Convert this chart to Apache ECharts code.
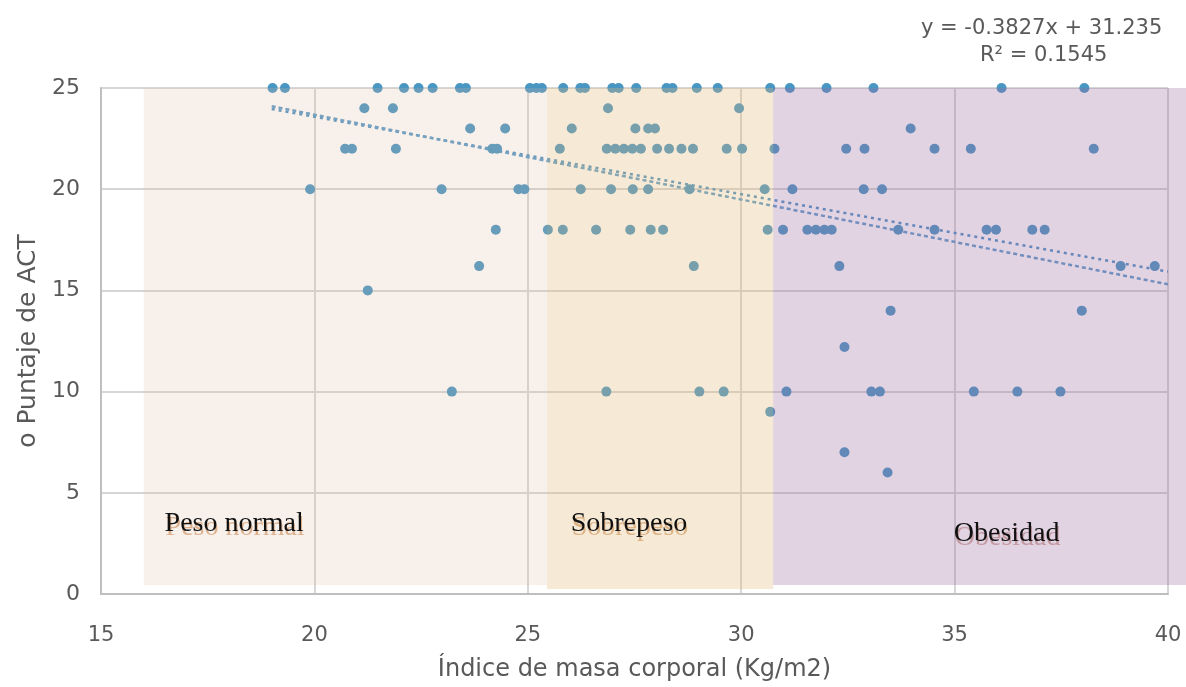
<!DOCTYPE html>
<html><head><meta charset="utf-8">
<script src="https://cdn.jsdelivr.net/npm/echarts@6/dist/echarts.min.js"></script>
<style>html,body{margin:0;padding:0;background:#fff}#c{width:1186px;height:687px}</style>
</head><body><div id="c"></div>
<script>
// Tick values
const xTicks = [15, 20, 25, 30, 35, 40];
const yTicks = [0, 5, 10, 15, 20, 25];

// ACT score rows and BMI values for each row
const scores = [25, 24, 23, 22, 20, 18, 16.2, 15, 14, 12.2, 10, 9, 7, 6];
const bmi25 = [19.02, 19.31, 21.48, 22.1, 22.44, 22.77, 23.41, 23.55, 25.05, 25.2, 25.33, 25.83, 26.23, 26.34, 26.98, 27.13, 27.54, 28.25, 28.39, 28.96, 29.45, 30.68, 31.14, 32.0, 33.1, 36.1, 38.04];
const bmi24 = [21.17, 21.84, 26.88, 29.95];
const bmi23 = [23.65, 24.47, 26.03, 27.52, 27.82, 27.98, 33.97];
const bmi22 = [20.72, 20.88, 21.91, 24.17, 24.28, 25.75, 26.85, 27.05, 27.25, 27.45, 27.65, 28.03, 28.31, 28.6, 28.87, 29.66, 30.02, 30.78, 32.46, 32.89, 34.53, 35.38, 38.26];
const bmi20 = [19.9, 22.98, 24.78, 24.92, 26.24, 26.95, 27.46, 27.82, 28.79, 30.55, 31.2, 32.87, 33.3];
const bmi18 = [24.25, 25.47, 25.82, 26.6, 27.4, 27.88, 28.17, 30.62, 30.98, 31.55, 31.75, 31.95, 32.12, 33.68, 34.53, 35.75, 35.97, 36.82, 37.11];
const bmi16 = [23.86, 28.89, 32.3, 38.89, 39.69];
const bmi15 = [21.25];
const bmi14 = [33.5, 37.98];
const bmi12 = [32.42];
const bmi10 = [23.22, 26.84, 29.02, 29.59, 31.06, 33.05, 33.25, 35.45, 36.47, 37.48];
const bmi9 = [30.68];
const bmi7 = [32.42];
const bmi6 = [33.43];
const rows = [bmi25, bmi24, bmi23, bmi22, bmi20, bmi18, bmi16, bmi15, bmi14, bmi12, bmi10, bmi9, bmi7, bmi6];

// Trend lines (end points)
const trendEq = [[19, 23.96], [40, 15.93]];
const trendB = [[19, 24.1], [40, 15.3]];

// Weight-category bands: [xFrom, xTo, yFrom, yTo]
const bandNames = ['Peso normal', 'Sobrepeso', 'Obesidad'];
const bandRanges = [[16, 25.45, 0.45, 25], [25.45, 30.75, 0.25, 25], [30.75, 40.45, 0.45, 25]];
const bandLabelAt = [[18.12, 3.48], [27.37, 3.48], [36.22, 2.99]];

const bandFill = ['rgba(222,180,150,0.2)', 'rgba(225,185,118,0.3)', 'rgba(158,108,162,0.3)'];
const bandShadow = ['rgba(205,135,80,0.6)', 'rgba(205,140,80,0.6)', 'rgba(170,105,105,0.55)'];

const points = [];
rows.forEach((r, i) => r.forEach(x => points.push([x, scores[i]])));

const txt = '#595959';
const font = '"DejaVu Sans", sans-serif';
const labelFont = '28px "Liberation Serif", serif';
const chart = echarts.init(document.getElementById('c'), null, {renderer: 'canvas'});
chart.setOption({
  animation: false,
  backgroundColor: '#fff',
  grid: {left: 101, right: 18, top: 88, bottom: 92, containLabel: false},
  graphic: [{
    type: 'text', left: 921, top: 18,
    style: {text: 'y = -0.3827x + 31.235', fill: txt, font: '21px ' + font}
  }, {
    type: 'text', left: 980, top: 45,
    style: {text: 'R² = 0.1545', fill: txt, font: '21px ' + font}
  }],
  xAxis: {
    type: 'value', min: xTicks[0], max: xTicks[xTicks.length - 1], interval: 5,
    name: 'Índice de masa corporal (Kg/m2)', nameLocation: 'middle', nameGap: 64,
    nameTextStyle: {color: txt, fontSize: 24, fontFamily: font},
    axisLine: {show: true, lineStyle: {color: '#bfbfbf', width: 2}},
    axisTick: {show: false},
    axisLabel: {color: txt, fontSize: 21, fontFamily: font, margin: 31},
    splitLine: {show: true, lineStyle: {color: '#d6d6d6', width: 2}}
  },
  yAxis: {
    type: 'value', min: yTicks[0], max: yTicks[yTicks.length - 1], interval: 5,
    name: 'o Puntaje de ACT', nameLocation: 'middle', nameGap: 57, nameRotate: 90,
    nameTextStyle: {color: txt, fontSize: 25, fontFamily: font},
    axisLine: {show: true, lineStyle: {color: '#bfbfbf', width: 2}},
    axisTick: {show: false},
    axisLabel: {color: txt, fontSize: 22, fontFamily: font, margin: 21},
    splitLine: {show: true, lineStyle: {color: '#d6d6d6', width: 2}}
  },
  series: [{
    type: 'scatter', z: 2, data: points, symbolSize: 10,
    itemStyle: {color: '#4a96c3', opacity: 1}
  }, {
    type: 'line', z: 2, data: trendEq, symbol: 'none',
    lineStyle: {color: '#4f93c4', width: 2.5, type: [3, 4]}
  }, {
    type: 'line', z: 2, data: trendB, symbol: 'none',
    lineStyle: {color: '#5e9dcb', width: 2.5, type: [4, 3]}
  }, {
    type: 'custom', z: 3, clip: false, silent: true,
    data: bandRanges.map((r, i) => [r[0], r[1], r[2], r[3], i]),
    renderItem: function (params, api) {
      const p0 = api.coord([api.value(0), api.value(3)]);
      const p1 = api.coord([api.value(1), api.value(2)]);
      const i = api.value(4);
      return {type: 'rect', shape: {x: p0[0], y: p0[1], width: p1[0] - p0[0], height: p1[1] - p0[1]},
        style: {fill: bandFill[i]}};
    }
  }, {
    type: 'custom', z: 4, clip: false, silent: true,
    data: bandLabelAt.map((p, i) => [p[0], p[1], i]),
    renderItem: function (params, api) {
      const p = api.coord([api.value(0), api.value(1)]);
      const i = api.value(2);
      return {type: 'group', children: [
        {type: 'text', x: p[0] + 1, y: p[1] + 4,
          style: {text: bandNames[i], fill: bandShadow[i], font: labelFont, align: 'center', verticalAlign: 'middle'}},
        {type: 'text', x: p[0], y: p[1],
          style: {text: bandNames[i], fill: '#111', font: labelFont, align: 'center', verticalAlign: 'middle'}}
      ]};
    }
  }]
});
</script></body></html>
